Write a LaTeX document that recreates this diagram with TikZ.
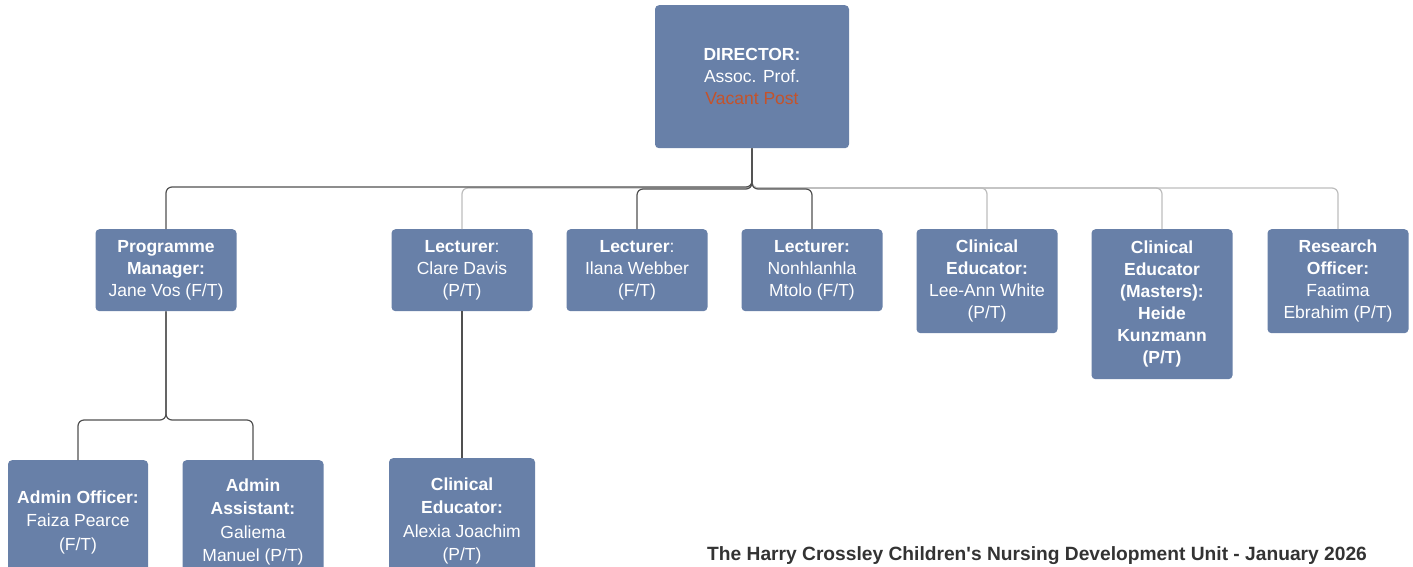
\documentclass[tikz,border=0pt]{standalone}
\usepackage{fontspec}
\setmainfont{Liberation Sans}
\definecolor{boxblue}{HTML}{6880A8}
\definecolor{vacantred}{HTML}{C4532B}
\definecolor{linedark}{HTML}{505050}
\definecolor{linepale}{HTML}{BDBDBD}
\definecolor{titlegray}{HTML}{333333}
\tikzset{
  post/.style={fill=boxblue, rounded corners=4pt, text=white, align=center,
    font=\fontsize{17.5}{22}\selectfont, anchor=north, minimum width=141pt, inner sep=0pt},
  lowpost/.style={post, minimum height=120pt, font=\fontsize{17.5}{23.5}\selectfont},
  darklink/.style={draw=linedark, line width=1.2pt, rounded corners=6pt},
  palelink/.style={draw=linepale, line width=1.2pt, rounded corners=6pt}
}
\begin{document}
\begin{tikzpicture}[x=1pt,y=-1pt]
			\useasboundingbox[fill=white] (0,0) rectangle (1413,566);
			\clip (0,0) rectangle (1413,566);
			
			% Director
			\node[post, minimum width=194pt, minimum height=143pt] (dir) at (752,5)
			{\textbf{DIRECTOR:}\\Assoc. Prof.\\\textcolor{vacantred}{Vacant Post}};
			
			% Second row
			\node[post, minimum height=82pt] (pm) at (166,229) {\textbf{Programme}\\\textbf{Manager:}\\Jane Vos (F/T)};
			\node[post, minimum height=82pt] (clare) at (462,229) {\textbf{Lecturer}:\\Clare Davis\\(P/T)};
			\node[post, minimum height=82pt] (ilana) at (637,229) {\textbf{Lecturer}:\\Ilana Webber\\(F/T)};
			\node[post, minimum height=82pt] (nonhl) at (812,229) {\textbf{Lecturer:}\\Nonhlanhla\\Mtolo (F/T)};
			\node[post, minimum height=104pt] (leeann) at (987,229) {\textbf{Clinical}\\\textbf{Educator:}\\Lee-Ann White\\(P/T)};
			\node[post, minimum height=150pt] (heide) at (1162,229) {\textbf{Clinical}\\\textbf{Educator}\\\textbf{(Masters):}\\\textbf{Heide}\\\textbf{Kunzmann}\\\textbf{(P/T)}};
			\node[post, minimum height=104pt] (faatima) at (1338,229) {\textbf{Research}\\\textbf{Officer:}\\Faatima\\Ebrahim (P/T)};
			
			% Third row
			\node[lowpost, minimum width=140pt, minimum height=124pt] (faiza) at (78,460) {\textbf{Admin Officer:}\\Faiza Pearce\\(F/T)};
			\node[lowpost, minimum height=124pt] (galiema) at (253,460) {\textbf{Admin}\\\textbf{Assistant:}\\Galiema\\Manuel (P/T)};
			\node[lowpost, minimum width=146pt, minimum height=126pt] (alexia) at (462,458) {\textbf{Clinical}\\\textbf{Educator:}\\Alexia Joachim\\(P/T)};
			
			% Pale connectors from the director
			\draw[palelink] (dir.south) -- (dir.south |- 0,188) -| (clare.north);
			\draw[palelink] (dir.south) -- (dir.south |- 0,188) -| (leeann.north);
			\draw[palelink] (dir.south) -- (dir.south |- 0,188) -| (heide.north);
			\draw[palelink] (dir.south) -- (dir.south |- 0,188) -| (faatima.north);
			
			% Dark connectors from the director
			\draw[darklink] (dir.south) -- (dir.south |- 0,187) -| (pm.north);
			\draw[darklink] (dir.south) -- (dir.south |- 0,189) -| (ilana.north);
			\draw[darklink] (dir.south) -- (dir.south |- 0,189) -| (nonhl.north);
			
			% Lower connectors
			\draw[darklink] (pm.south) -- (pm.south |- 0,420) -| (faiza.north);
			\draw[darklink] (pm.south) -- (pm.south |- 0,420) -| (galiema.north);
			\draw[darklink] (clare.south) -- (alexia.north);
			
			% Title
			\node[anchor=base west, inner sep=0pt, text=titlegray, font=\fontsize{19.2}{23}\selectfont\bfseries] (title) at (707,560)
			{The Harry Crossley Children\textquotesingle s Nursing Development Unit - January 2026};
			
		\end{tikzpicture}
\end{document}
